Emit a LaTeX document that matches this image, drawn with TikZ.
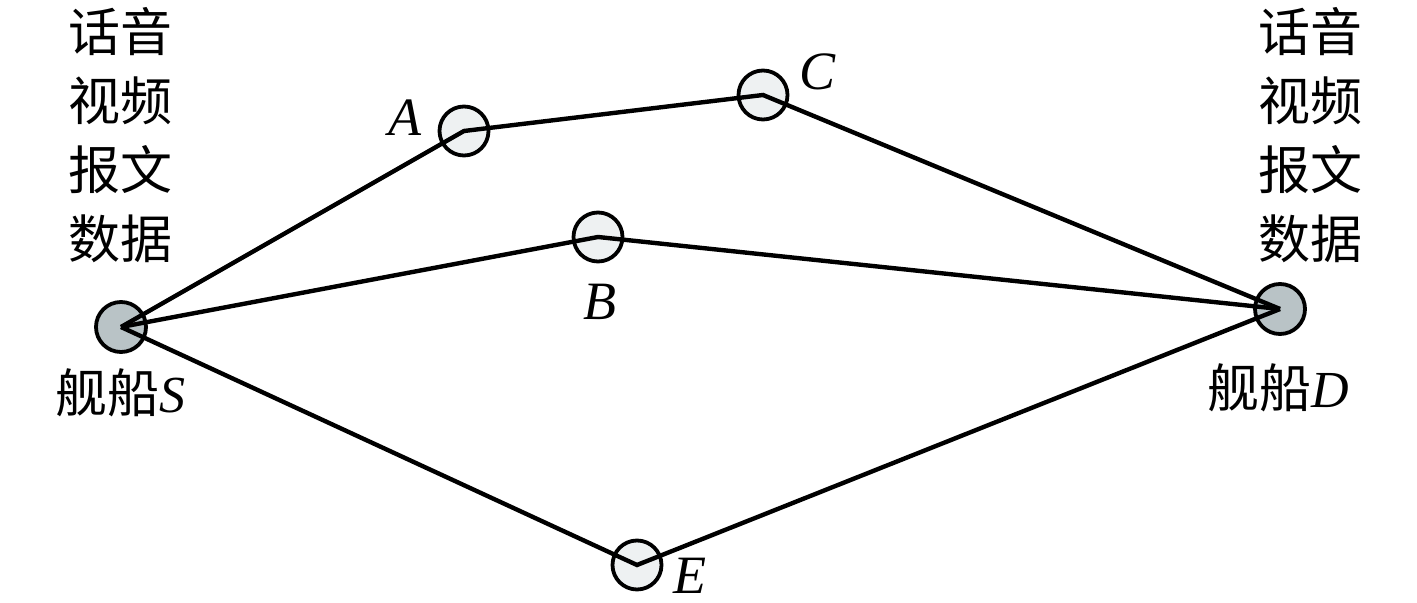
\documentclass[tikz,border=0pt]{standalone}
\usepackage{fontspec}
\setmainfont{Liberation Serif}
\newfontfamily\cjk{Noto Sans CJK SC}[Scale=1.0]
\begin{document}
\begin{tikzpicture}[x=0.5pt,y=-0.5pt,
  ship/.style={circle,draw,line width=1.9pt,fill=shipgray,minimum size=25pt,inner sep=0pt},
  relay/.style={circle,draw,line width=1.9pt,fill=relaylight,minimum size=24.5pt,inner sep=0pt},
  link/.style={line width=2.2pt,line join=miter},
  lbl/.style={font=\fontsize{27}{30}\selectfont\itshape,inner sep=0pt},
  txt/.style={font=\cjk\fontsize{26}{34.5}\selectfont,align=center,inner sep=0pt}]
\definecolor{shipgray}{HTML}{B9C3C6}
\definecolor{relaylight}{HTML}{EEF1F2}
\useasboundingbox (0,0) rectangle (1417,603);
\node[ship] (S) at (121,327) {};
\node[ship] (D) at (1280,309) {};
\node[relay] (A) at (464,131) {};
\node[relay] (C) at (763,95) {};
\node[relay] (B) at (598,237) {};
\node[relay] (E) at (637,565) {};
\draw[link] (S.center) -- (A.center) -- (C.center) -- (D.center);
\draw[link] (S.center) -- (B.center) -- (D.center);
\draw[link] (S.center) -- (E.center) -- (D.center);
\node[lbl] (la) at (405,118) {A};
\node[lbl] (lc) at (817,72) {C};
\node[lbl] (lb) at (600,302) {B};
\node[lbl] (le) at (690,576) {E};
\node[txt] (tl) at (120,135) {话音\\视频\\报文\\数据};
\node[txt] (tr) at (1310,135) {话音\\视频\\报文\\数据};
\node[txt] (ns) at (120,393) {舰船\textit{\fontspec{Liberation Serif}S}};
\node[txt] (nd) at (1278,388) {舰船\textit{\fontspec{Liberation Serif}D}};
\end{tikzpicture}
\end{document}
